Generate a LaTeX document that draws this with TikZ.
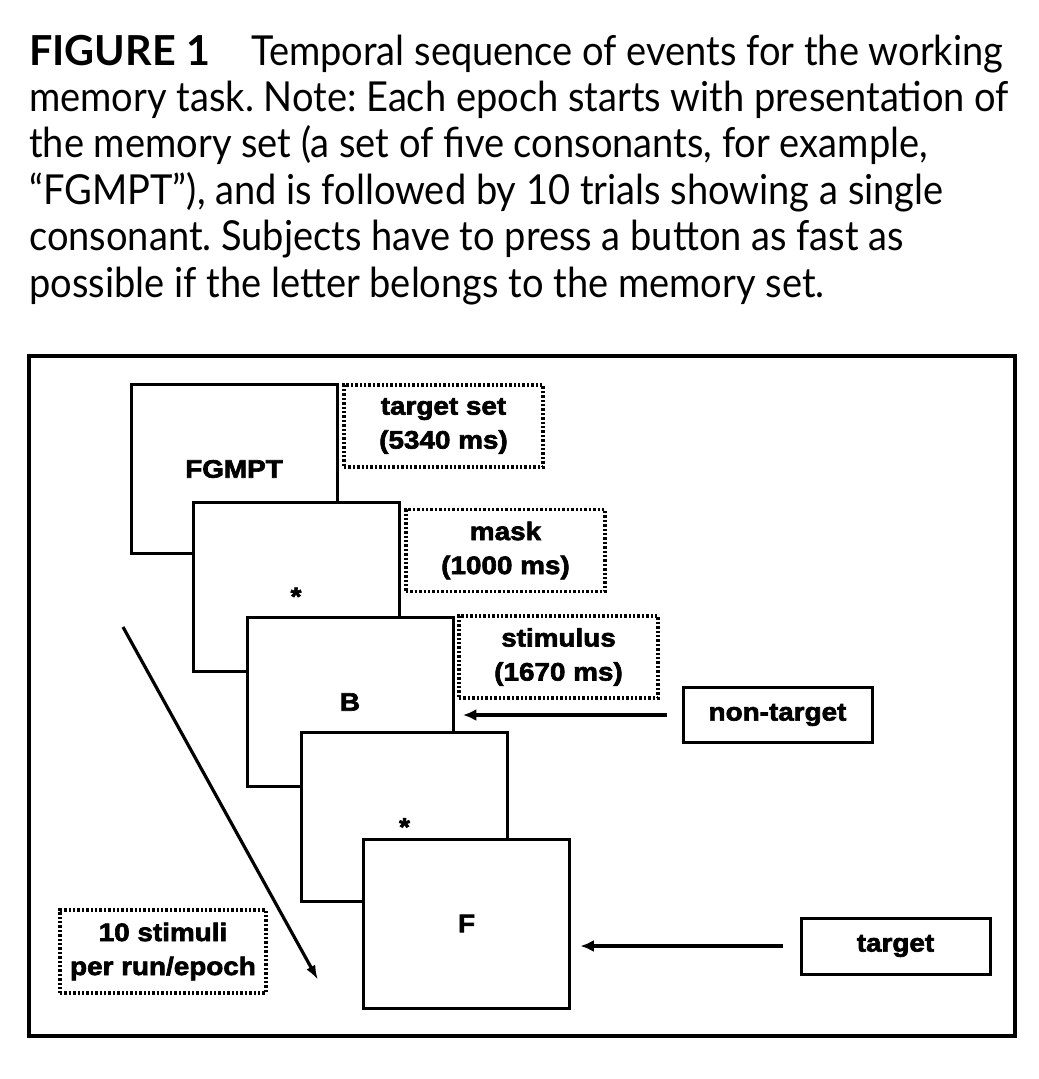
\documentclass[tikz,border=0pt]{standalone}
\usepackage{fontspec}
\setmainfont{Lato}[FakeStretch=0.92]
\newfontfamily\figfont{Lato}
\newfontfamily\diagfont[FakeStretch=1.1, BoldFeatures={FakeBold=2.5}]{Liberation Sans}
\usetikzlibrary{arrows.meta}

\tikzset{
  screen/.style={draw, line width=2.25pt, fill=white, inner sep=0pt,
    minimum width=154.5pt, minimum height=126.75pt,
    font=\diagfont\bfseries\fontsize{19}{25.5}\selectfont},
  phase/.style={draw, line width=2.6pt, dash pattern=on 1.8pt off 1.5pt,
    minimum width=149.25pt, minimum height=61.5pt, inner sep=0pt, align=center,
    font=\diagfont\bfseries\fontsize{19}{25.5}\selectfont},
  kind/.style={draw, line width=2.25pt, minimum width=141.75pt, minimum height=41.25pt,
    inner sep=0pt, font=\diagfont\bfseries\fontsize{19}{25.5}\selectfont},
  cue/.style={line width=2.4pt, -{Latex[length=10pt,width=9pt]}},
  capline/.style={anchor=base west, inner sep=0pt, font=\fontsize{31}{37}\selectfont}
}

\begin{document}
\frenchspacing
\begin{tikzpicture}[x=0.75pt, y=-0.75pt]
  \useasboundingbox (0,0) rectangle (1039,1079);

  %% caption
  \node[capline] (cap1) at (29,65) {{\figfont\bfseries FIGURE 1}\hspace{31pt}Temporal sequence of events for the working};
  \node[capline] (cap2) at (29,111.4) {memory task. Note: Each epoch starts with presentation of};
  \node[capline] (cap3) at (29,157.8) {the memory set (a set of five consonants, for example,};
  \node[capline] (cap4) at (29,204.2) {“FGMPT”), and is followed by 10 trials showing a single};
  \node[capline] (cap5) at (29,250.6) {consonant. Subjects have to press a button as fast as};
  \node[capline] (cap6) at (29,297) {possible if the letter belongs to the memory set.};

  %% frame
  \draw[line width=3pt] (29,356) rectangle (1015,1036);

  %% screens
  \node[screen] (setscr) at (234,469) {FGMPT};
  \node[screen] (maskA) at (296,586.5) {\smash{\raisebox{-14pt}{*}}};
  \node[screen] (stimB) at (350,702) {B};
  \node[screen] (maskB) at (404.5,817) {\smash{\raisebox{-14pt}{*}}};
  \node[screen] (stimF) at (466.5,923.5) {F};

  %% durations
  \node[phase] (lblset) at (443.5,426) {target set\\(5340 ms)};
  \node[phase] (lblmask) at (505.5,550.5) {mask\\(1000 ms)};
  \node[phase] (lblstim) at (558.5,657) {stimulus\\(1670 ms)};
  \node[phase, minimum width=154.5pt, minimum height=62.25pt] (lblrun) at (163,951.5) {10 stimuli\\per run/epoch};

  %% responses
  \node[kind] (nontgt) at (777.5,715) {non-target};
  \node[kind, minimum height=42pt] (tgt) at (895.5,946) {target};
  \draw[cue, shorten <=11pt, shorten >=6.4pt] (nontgt.west) -- (nontgt.west -| stimB.east);
  \draw[cue, shorten <=12.4pt, shorten >=7.1pt] (tgt.west) -- (tgt.west -| stimF.east);

  %% run direction
  \coordinate (runtop) at (123,627);
  \coordinate (runend) at (318,980);
  \draw[line width=2.4pt, -{Latex[length=11pt,width=7.5pt]}] (runtop) -- (runend);

\end{tikzpicture}
\end{document}
